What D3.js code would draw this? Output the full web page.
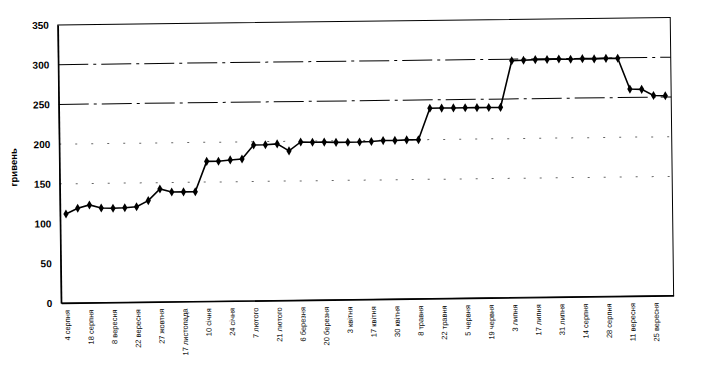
<!DOCTYPE html>
<html>
<head>
<meta charset="utf-8">
<script src="https://cdn.jsdelivr.net/npm/d3@7/dist/d3.min.js"></script>
<style>
    body { margin: 0; background: #fff; }
    svg { display: block; font-family: "Liberation Sans", Arial, sans-serif; }
</style>
</head>
<body>
<div id="chart"><svg width="703" height="367"></svg></div>
<script>
// labels sit under every second weekly point
var dates = ["4 серпня", "18 серпня", "8 вересня", "22 вересня", "27 жовтня", "17 листопада",
    "10 січня", "24 січня", "7 лютого", "21 лютого", "6 березня", "20 березня", "3 квітня",
    "17 квітня", "30 квітня", "8 травня", "22 травня", "5 червня", "19 червня", "3 липня",
    "17 липня", "31 липня", "14 серпня", "28 серпня", "11 вересня", "25 вересня"];

var prices = [112, 119, 123, 119, 118.5, 119, 120, 127.5, 142, 138, 138, 138,
    176, 176, 177.5, 178.5, 196, 196, 197, 188, 199, 198.5, 198.5, 198, 198, 198, 198.5,
    199.5, 199.5, 200, 200, 239.5, 239.5, 239.5, 239.5, 239.5, 239.5, 239.5,
    298, 298.5, 299, 299, 299.5, 299, 299.5, 299, 299.5, 299.5, 260.5, 260, 252, 251.5];

var yTicks = [0, 50, 100, 150, 200, 250, 300, 350];
var gridStrong = [250, 300];
var gridFaint = [150, 200];
var yTitle = "гривень";

var svg = d3.select("svg"),
    margin = { top: 21.2, right: 31, bottom: 67.7, left: 59.5 },
    width = +svg.attr("width") - margin.left - margin.right,
    height = +svg.attr("height") - margin.top - margin.bottom;

// the source is a slightly tilted scan
var root = svg.append("g").attr("transform", "rotate(-0.7,366,164)");

var g = root.append("g")
    .attr("transform", "translate(" + margin.left + "," + margin.top + ")");

var xScale = d3.scaleBand().domain(d3.range(prices.length)).range([0, width]),
    yScale = d3.scaleLinear().domain([0, 350]).range([height, 0]);

function cx(i) { return xScale(i) + xScale.bandwidth() / 2; }

// gridlines
g.selectAll(".grid")
    .data(gridStrong.concat(gridFaint))
    .enter().append("line")
    .attr("class", "grid")
    .attr("x1", 0)
    .attr("x2", width)
    .attr("y1", function (d) { return yScale(d); })
    .attr("y2", function (d) { return yScale(d); })
    .attr("stroke", function (d) { return gridStrong.includes(d) ? "#000" : "#666"; })
    .attr("stroke-width", 1)
    .attr("stroke-dasharray", function (d) { return gridStrong.includes(d) ? "30,5,3,5" : "2,14"; });

// plot border
g.append("rect")
    .attr("width", width)
    .attr("height", height)
    .attr("fill", "none")
    .attr("stroke", "#000")
    .attr("stroke-width", 1);

var yAxis = g.append("g")
    .call(d3.axisLeft(yScale).tickValues(yTicks).tickSize(0).tickPadding(9));
yAxis.select(".domain").attr("stroke", "#000").attr("stroke-width", 1.4);
yAxis.selectAll("text")
    .attr("fill", "#000")
    .style("font-size", "10px")
    .style("font-weight", "bold");

var xAxis = g.append("g")
    .attr("transform", "translate(0," + height + ")")
    .call(d3.axisBottom(xScale)
        .tickValues(d3.range(0, prices.length, 2))
        .tickFormat(function (i) { return dates[i / 2]; })
        .tickSize(0));
xAxis.select(".domain").attr("stroke", "#000").attr("stroke-width", 1.4);
xAxis.selectAll("text")
    .attr("fill", "#000")
    .attr("transform", "rotate(-90)")
    .attr("text-anchor", "end")
    .attr("x", -7)
    .attr("y", 0)
    .attr("dy", "0.35em")
    .style("font-size", "7.5px");

// y title
root.append("text")
    .attr("transform", "translate(17," + (margin.top + height * 0.51) + ") rotate(-90)")
    .attr("text-anchor", "middle")
    .style("font-size", "9.5px")
    .style("font-weight", "bold")
    .text(yTitle);

var line = d3.line()
    .x(function (d, i) { return cx(i); })
    .y(function (d) { return yScale(d); });

g.append("path")
    .datum(prices)
    .attr("fill", "none")
    .attr("stroke", "#000")
    .attr("stroke-width", 1.6)
    .attr("d", line);

g.selectAll(".pt")
    .data(prices)
    .enter().append("path")
    .attr("class", "pt")
    .attr("transform", function (d, i) { return "translate(" + cx(i) + "," + yScale(d) + ")"; })
    .attr("d", d3.symbol(d3.symbolDiamond, 24))
    .attr("fill", "#000");
</script>
</body>
</html>
